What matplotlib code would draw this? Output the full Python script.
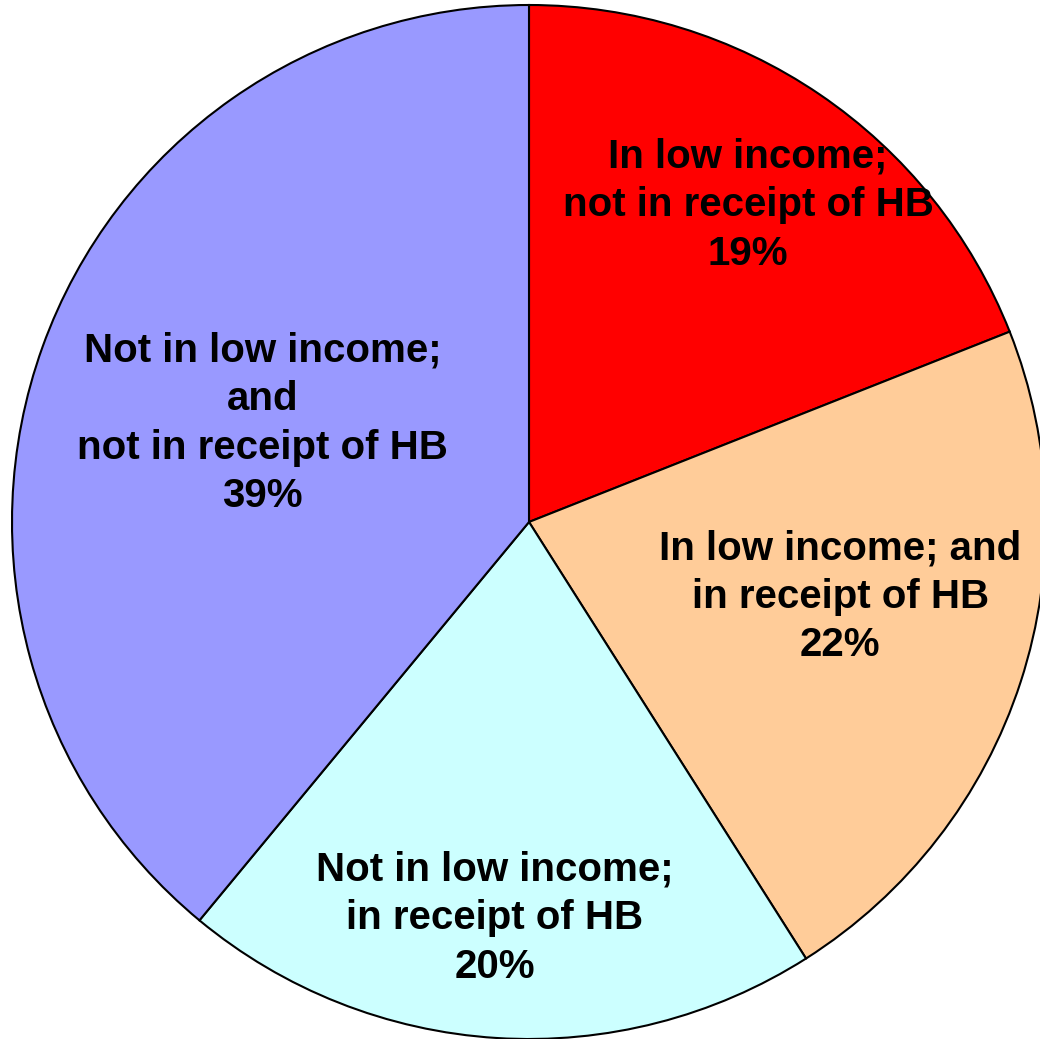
import matplotlib
matplotlib.use("Agg")
import matplotlib.pyplot as plt

labels = [
    "In low income;\nnot in receipt of HB",
    "In low income; and\nin receipt of HB",
    "Not in low income;\nin receipt of HB",
    "Not in low income;\nand\nnot in receipt of HB",
]
shares = [19, 22, 20, 39]
colors = ["#FF0000", "#FFCC99", "#CCFFFF", "#9999FF"]

# where each label sits (data coords, pie radius = 1)
label_pos = [(0.424, 0.613), (0.602, -0.145), (-0.066, -0.766), (-0.515, 0.191)]

plt.rcParams['font.family'] = ['Liberation Sans', 'DejaVu Sans']

fig = plt.figure(figsize=(10.4, 10.39), dpi=100)
ax = fig.add_axes([12 / 1040, 0.0, 1034 / 1040, 1034 / 1039])
ax.pie(shares, colors=colors, startangle=90, counterclock=False,
       wedgeprops=dict(edgecolor="black", linewidth=1.5))
ax.set_xlim(-1, 1)
ax.set_ylim(-1, 1)
ax.set_aspect('auto')
ax.axis('off')

for lab, val, (x, y) in zip(labels, shares, label_pos):
    ax.text(x, y, f"{lab}\n{val}%", ha='center', va='center', fontsize=29,
            fontweight='bold', linespacing=1.35, clip_on=False)

fig.savefig("out.png", dpi=100)
